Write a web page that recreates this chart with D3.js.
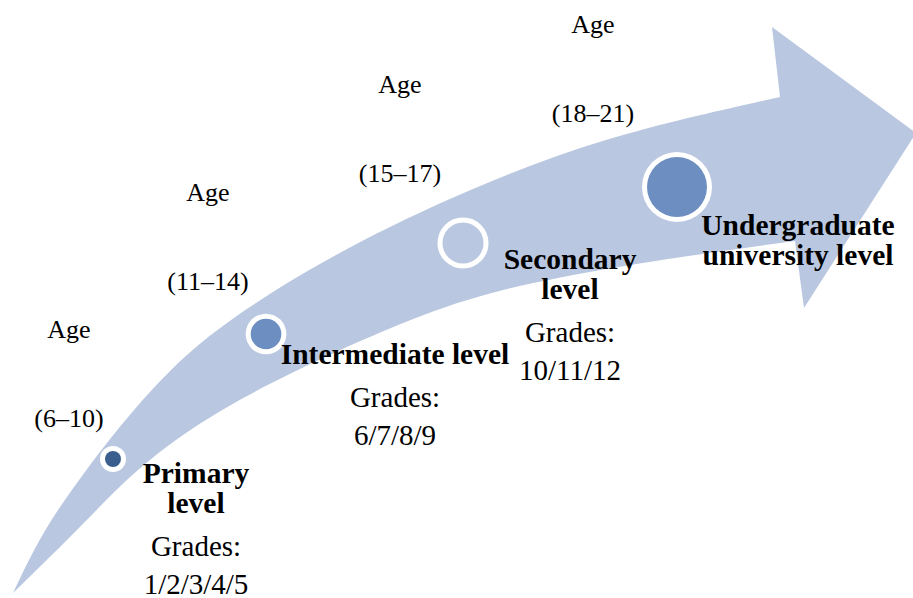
<!DOCTYPE html>
<html>
<head>
<meta charset="utf-8">
<script src="https://cdn.jsdelivr.net/npm/d3@7"></script>
<style>
    html, body { margin: 0; padding: 0; background: #fff; }
    svg { display: block; }
    text { font-family: "Liberation Serif", "Times New Roman", serif; fill: #000; }
</style>
</head>
<body>
<div id="chart"></div>
<script>
// stages of the education path
const stages = ["Primary", "Intermediate", "Secondary", "Undergraduate"];
const stageTitles = [["Primary", "level"], ["Intermediate level"], ["Secondary", "level"], ["Undergraduate", "university level"]];
const ageRanges = ["(6–10)", "(11–14)", "(15–17)", "(18–21)"];
const grades = ["1/2/3/4/5", "6/7/8/9", "10/11/12", null];
const dotStep = [1, 2, 3, 4];

// arrow outline, in picture units
const upperEdge = [[13, 593], [42, 532], [80, 478], [118, 428], [170, 368], [230, 318], [330, 256], [450, 197], [600, 137], [780, 97]];
const arrowHead = [[772, 27], [916, 133], [804, 308], [795, 241]];
const lowerEdge = [[795, 241], [650, 261], [530, 282], [430, 309], [280, 377], [197, 423], [133, 472], [87, 520], [50, 557], [13, 593]];

// where each stage sits along the arrow
const dotPos = [[113, 459], [266, 334], [463, 243], [677, 187]];
const agePos = [[69, 338], [208, 201], [400, 93], [593, 33]];
const titlePos = [[196, 483], [395, 364], [570, 269], [798, 235]];

const width = 913, height = 598;

const svg = d3.select("#chart").append("svg")
    .attr("width", width)
    .attr("height", height)
    .attr("viewBox", [0, 0, width, height]);

const x = d3.scaleLinear().domain([0, 913]).range([0, width]);
const y = d3.scaleLinear().domain([0, 598]).range([0, height]);

const edge = d3.line()
    .x(d => x(d[0]))
    .y(d => y(d[1]))
    .curve(d3.curveBasis);

const straight = d3.line()
    .x(d => x(d[0]))
    .y(d => y(d[1]));

const arrowPath = edge(upperEdge)
    + straight([upperEdge[upperEdge.length - 1], ...arrowHead]).replace(/^M/, "L")
    + edge(lowerEdge).replace(/^M/, "L") + "Z";

svg.append("path")
    .attr("d", arrowPath)
    .attr("fill", "#b9c7e0");

// dot sizes grow along the path
const ring = d3.scaleLinear().domain([1, 4]).range([13, 35]);
const core = d3.scaleLinear().domain([1, 4]).range([8, 30]);

const dots = svg.append("g")
    .selectAll("g")
    .data(stages)
    .join("g")
    .attr("transform", (d, i) => `translate(${x(dotPos[i][0])},${y(dotPos[i][1])})`);

dots.each(function (d, i) {
    const g = d3.select(this);
    if (i === 2) {
        g.append("circle")
            .attr("r", 23)
            .attr("fill", "none")
            .attr("stroke", "#fff")
            .attr("stroke-width", 5);
        return;
    }
    g.append("circle")
        .attr("r", ring(dotStep[i]))
        .attr("fill", "#fff");
    g.append("circle")
        .attr("r", core(dotStep[i]))
        .attr("fill", i === 0 ? "#3a5e8e" : "#6d8ec0");
});

// age labels
const ages = svg.append("g")
    .attr("text-anchor", "middle")
    .attr("font-size", 26)
    .selectAll("g")
    .data(ageRanges)
    .join("g");

ages.append("text")
    .attr("x", (d, i) => x(agePos[i][0]))
    .attr("y", (d, i) => y(agePos[i][1]))
    .text("Age");

ages.append("text")
    .attr("x", (d, i) => x(agePos[i][0]))
    .attr("y", (d, i) => y(agePos[i][1] + 89))
    .text(d => d);

// stage titles and grades
const titles = svg.append("g")
    .attr("text-anchor", "middle")
    .selectAll("g")
    .data(stageTitles)
    .join("g");

titles.each(function (lines, i) {
    const g = d3.select(this);
    const cx = x(titlePos[i][0]);
    let by = titlePos[i][1];
    lines.forEach((line, j) => {
        g.append("text")
            .attr("x", cx)
            .attr("y", y(by + j * 30))
            .attr("font-size", 29.5)
            .attr("font-weight", "bold")
            .text(line);
    });
    if (grades[i]) {
        const gy = by + (lines.length - 1) * 30 + 43;
        g.append("text")
            .attr("x", cx)
            .attr("y", y(gy))
            .attr("font-size", 29)
            .text("Grades:");
        g.append("text")
            .attr("x", cx)
            .attr("y", y(gy + 38))
            .attr("font-size", 29)
            .text(grades[i]);
    }
});
</script>
</body>
</html>
